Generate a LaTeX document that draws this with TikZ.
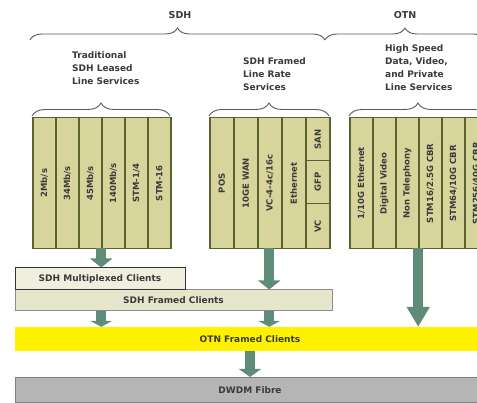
\documentclass[tikz,border=0pt]{standalone}
\usepackage{fontspec}
\setmainfont{DejaVu Sans}
\usetikzlibrary{arrows.meta,decorations.pathreplacing}

\definecolor{colfill}{HTML}{D8D59C}
\definecolor{colline}{HTML}{5A6230}
\definecolor{arrowgreen}{HTML}{5F8C78}
\definecolor{framedfill}{HTML}{E6E6CC}
\definecolor{muxfill}{HTML}{F0EEDC}
\definecolor{fibrefill}{HTML}{B5B5B5}
\definecolor{textgray}{HTML}{3A3A3A}

\begin{document}
\begin{tikzpicture}[
  x=1pt,y=-1pt,
  text=textgray,
  font=\bfseries\fontsize{9}{13}\selectfont,
  cnode/.style={draw=colline,line width=1.5pt,fill=colfill,minimum width=23pt,minimum height=131pt,inner sep=0pt,anchor=north west,font=\bfseries\fontsize{8.5}{9}\selectfont},
  wnode/.style={cnode,minimum width=24pt},
  gnode/.style={draw=none,minimum height=131pt,inner sep=0pt,anchor=north west},
  lnode/.style={align=left,inner sep=0pt,anchor=north west},
  bnode/.style={minimum height=22pt,inner sep=0pt,font=\bfseries\fontsize{9}{10}\selectfont},
  brc/.style={draw=black!65,line width=0.9pt,decorate,decoration={brace,amplitude=#1}},
  fatarrow/.style={draw=arrowgreen,fill=arrowgreen,line width=10pt,-{Triangle[width=22pt,length=#1]}}
]
  \useasboundingbox (0,0) rectangle (477,403);
  \clip (0,0) rectangle (477,403);

  % headings
  \node (sdh) at (180,15) {\fontsize{9.5}{10}\selectfont SDH};
  \node (otn) at (405,15) {\fontsize{9.5}{10}\selectfont OTN};
  \draw[brc=12pt] (30,40) -- (325,40);
  \draw[brc=12pt] (325,40) -- (485,40);

  % service groups
  \node[lnode] (tradtxt) at (72,51) {Traditional\\SDH Leased\\Line Services};
  \node[lnode] (frmtxt) at (243,57) {SDH Framed\\Line Rate\\Services};
  \node[lnode] (hstxt) at (385,44) {High Speed\\Data, Video,\\and Private\\Line Services};
  \draw[brc=13pt] (32,116) -- (170,116);
  \draw[brc=13pt] (209,116) -- (329,116);
  \draw[brc=13pt] (349,116) -- (487,116);

  % traditional clients
  \node[gnode,minimum width=138pt] (trad) at (32,117) {};
  \node[cnode] (t1) at (32,117) {\rotatebox{90}{2Mb/s}};
  \node[cnode] (t2) at (55,117) {\rotatebox{90}{34Mb/s}};
  \node[cnode] (t3) at (78,117) {\rotatebox{90}{45Mb/s}};
  \node[cnode] (t4) at (101,117) {\rotatebox{90}{140Mb/s}};
  \node[cnode] (t5) at (124,117) {\rotatebox{90}{STM-1/4}};
  \node[cnode] (t6) at (147,117) {\rotatebox{90}{STM-16}};

  % framed line rate clients
  \node[gnode,minimum width=120pt] (frm) at (209,117) {};
  \node[wnode] (f1) at (209,117) {\rotatebox{90}{POS}};
  \node[wnode] (f2) at (233,117) {\rotatebox{90}{10GE WAN}};
  \node[wnode] (f3) at (257,117) {\rotatebox{90}{VC-4-4c/16c}};
  \node[wnode] (f4) at (281,117) {\rotatebox{90}{Ethernet}};
  \node[wnode,minimum height=43pt] (f5) at (305,117) {\rotatebox{90}{SAN}};
  \node[wnode,minimum height=43pt] (f6) at (305,160) {\rotatebox{90}{GFP}};
  \node[wnode,minimum height=45pt] (f7) at (305,203) {\rotatebox{90}{VC}};

  % high speed clients
  \node[gnode,minimum width=138pt] (hs) at (349,117) {};
  \node[cnode] (h1) at (349,117) {\rotatebox{90}{1/10G Ethernet}};
  \node[cnode] (h2) at (372,117) {\rotatebox{90}{Digital Video}};
  \node[cnode] (h3) at (395,117) {\rotatebox{90}{Non Telephony}};
  \node[cnode] (h4) at (418,117) {\rotatebox{90}{STM16/2.5G CBR}};
  \node[cnode] (h5) at (441,117) {\rotatebox{90}{STM64/10G CBR}};
  \node[cnode] (h6) at (464,117) {\rotatebox{90}{STM256/40G CBR}};

  % layers
  \node[bnode,draw=black!45,line width=1pt,fill=framedfill,minimum width=317pt,minimum height=21pt] (framed) at (173.5,300.5) {SDH Framed Clients};
  \node[bnode,draw=black!80,line width=1pt,fill=muxfill,minimum width=170pt] (mux) at (100,279) {SDH Multiplexed Clients};
  \node[bnode,fill=yellow,minimum width=470pt,minimum height=24pt] (otnc) at (250,339) {OTN Framed Clients};
  \node[bnode,draw=black!50,line width=1pt,fill=fibrefill,minimum width=470pt,minimum height=25pt] (dwdm) at (250,390) {DWDM Fibre};

  % edges
  \draw[fatarrow=9pt] (trad.south) -- (trad.south |- mux.north);
  \draw[fatarrow=9pt] (frm.south) -- (frm.south |- framed.north);
  \draw[fatarrow=20pt] (hs.south) -- (hs.south |- otnc.north);
  \draw[fatarrow=6pt] (trad.south |- framed.south) -- (trad.south |- otnc.north);
  \draw[fatarrow=6pt] (frm.south |- framed.south) -- (frm.south |- otnc.north);
  \draw[fatarrow=8pt] (otnc.south) -- (otnc.south |- dwdm.north);
\end{tikzpicture}
\end{document}
